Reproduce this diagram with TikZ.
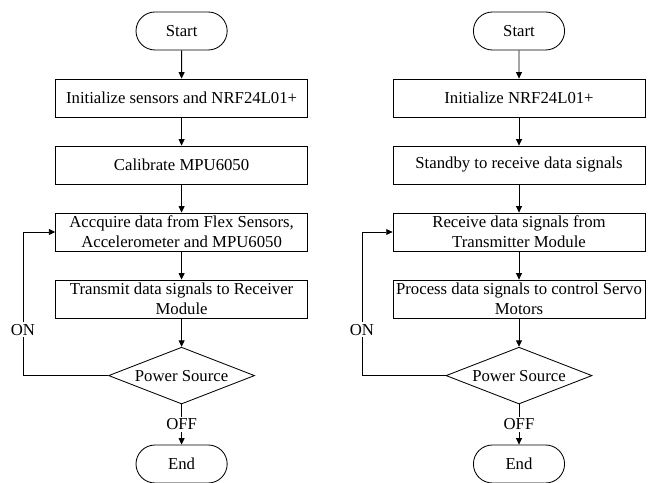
\documentclass[tikz,border=0pt]{standalone}
\usepackage{fontspec}
\setmainfont{Liberation Serif}
\usetikzlibrary{arrows.meta, shapes.geometric, shapes.misc}
\tikzset{
  every picture/.style={font=\fontsize{11.9}{14}\selectfont, line width=0.6pt},
  box/.style={draw, rectangle, align=center, inner sep=2pt, minimum width=6.3cm, minimum height=0.95cm},
  term/.style={draw, rounded rectangle, inner sep=2pt, minimum width=2.42cm, minimum height=0.95cm},
  dec/.style={draw, diamond, aspect=2.56, inner sep=0pt, minimum width=3.65cm, minimum height=1.42cm},
  arrow/.style={-{Triangle[length=4.5pt, width=4.2pt]}},
  lbl/.style={fill=white, inner sep=1.5pt},
}

\begin{document}
\begin{tikzpicture}
  \useasboundingbox (0,0) rectangle (16.325,-12.075);

  % transmitter
  \node[term] (start1) at (4.54,-0.775) {Start};
  \node[box]  (init1)  at (4.54,-2.45)  {Initialize sensors and NRF24L01+};
  \node[box]  (cal1)   at (4.54,-4.125) {Calibrate MPU6050};
  \node[box]  (acq1)   at (4.54,-5.8)   {Accquire data from Flex Sensors,\\Accelerometer and MPU6050};
  \node[box]  (tx1)    at (4.54,-7.475) {Transmit data signals to Receiver\\Module};
  \node[dec]  (pw1)    at (4.54,-9.39)  {Power Source};
  \node[term] (end1)   at (4.54,-11.6)  {End};
  \coordinate (lp1) at (0.575,-5.8);

  % receiver
  \node[term] (start2) at (12.975,-0.775) {Start};
  \node[box]  (init2)  at (12.975,-2.45)  {Initialize NRF24L01+};
  \node[box]  (wait2)  at (12.975,-4.125) {Standby to receive data signals};
  \node[box]  (rx2)    at (12.975,-5.8)   {Receive data signals from\\Transmitter Module};
  \node[box]  (proc2)  at (12.975,-7.475) {Process data signals to control Servo\\Motors};
  \node[dec]  (pw2)    at (12.975,-9.39)  {Power Source};
  \node[term] (end2)   at (12.975,-11.6)  {End};
  \coordinate (lp2) at (9.05,-5.8);

  \foreach \a/\b in {start1/init1, init1/cal1, cal1/acq1, acq1/tx1, tx1/pw1,
                     start2/init2, init2/wait2, wait2/rx2, rx2/proc2, proc2/pw2}
    \draw[arrow] (\a) -- (\b);

  % power loop
  \draw[arrow] (pw1.west) -| node[lbl, pos=0.66] {ON} (lp1) -- (acq1.west);
  \draw[arrow] (pw2.west) -| node[lbl, pos=0.66] {ON} (lp2) -- (rx2.west);
  \draw[arrow] (pw1.south) -- node[lbl] {OFF} (end1.north);
  \draw[arrow] (pw2.south) -- node[lbl] {OFF} (end2.north);
\end{tikzpicture}
\end{document}
